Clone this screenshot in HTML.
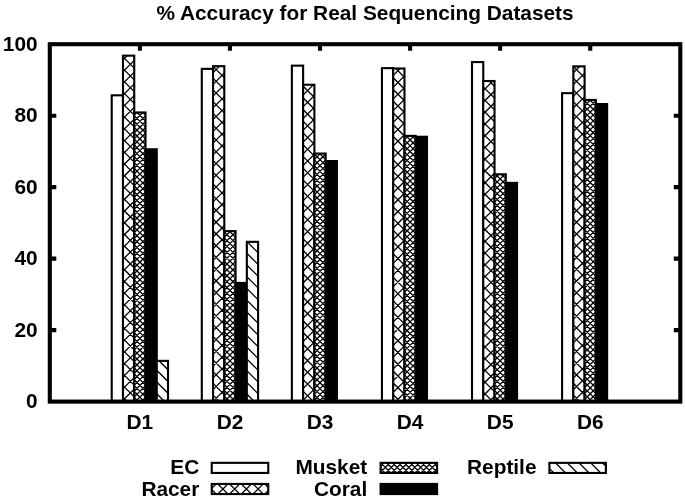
<!DOCTYPE html>
<html><head><meta charset="utf-8"><title>% Accuracy for Real Sequencing Datasets</title>
<style>html,body{margin:0;padding:0;background:#fff}svg{display:block}</style></head>
<body>
<svg width="685" height="502" viewBox="0 0 685 502">
<rect width="685" height="502" fill="#fff"/>
<path d="M49.8 330.12h6.5M680.3 330.12h-6.5M49.8 258.64h6.5M680.3 258.64h-6.5M49.8 187.16h6.5M680.3 187.16h-6.5M49.8 115.68h6.5M680.3 115.68h-6.5M139.87 44.2v6.5M139.87 401.6v-6.5M229.94 44.2v6.5M229.94 401.6v-6.5M320.01 44.2v6.5M320.01 401.6v-6.5M410.09 44.2v6.5M410.09 401.6v-6.5M500.16 44.2v6.5M500.16 401.6v-6.5M590.23 44.2v6.5M590.23 401.6v-6.5" stroke="#000" stroke-width="4.1" fill="none"/>
<rect x="111.72" y="95.31" width="11.26" height="306.29" fill="#fff"/><rect x="111.72" y="95.31" width="11.26" height="306.29" fill="none" stroke="#000" stroke-width="2.1"/>
<rect x="122.98" y="55.64" width="11.26" height="345.96" fill="#fff"/><clipPath id="c1"><rect x="122.98" y="55.64" width="11.26" height="345.96"/></clipPath><path clip-path="url(#c1)" d="M120.98 61.91L129.26 53.64M120.98 73.65L136.24 58.39M120.98 85.39L136.24 70.13M120.98 97.13L136.24 81.87M120.98 108.87L136.24 93.61M120.98 120.6L136.24 105.34M120.98 132.34L136.24 117.08M120.98 144.08L136.24 128.82M120.98 155.82L136.24 140.56M120.98 167.56L136.24 152.3M120.98 179.29L136.24 164.03M120.98 191.03L136.24 175.77M120.98 202.77L136.24 187.51M120.98 214.51L136.24 199.25M120.98 226.24L136.24 210.99M120.98 237.98L136.24 222.72M120.98 249.72L136.24 234.46M120.98 261.46L136.24 246.2M120.98 273.2L136.24 257.94M120.98 284.93L136.24 269.68M120.98 296.67L136.24 281.41M120.98 308.41L136.24 293.15M120.98 320.15L136.24 304.89M120.98 331.89L136.24 316.63M120.98 343.62L136.24 328.37M120.98 355.36L136.24 340.1M120.98 367.1L136.24 351.84M120.98 378.84L136.24 363.58M120.98 390.58L136.24 375.32M120.98 402.31L136.24 387.06M131.44 403.6L136.24 398.79M120.98 395.32L129.26 403.6M120.98 383.59L136.24 398.84M120.98 371.85L136.24 387.11M120.98 360.11L136.24 375.37M120.98 348.37L136.24 363.63M120.98 336.63L136.24 351.89M120.98 324.9L136.24 340.15M120.98 313.16L136.24 328.42M120.98 301.42L136.24 316.68M120.98 289.68L136.24 304.94M120.98 277.94L136.24 293.2M120.98 266.21L136.24 281.46M120.98 254.47L136.24 269.73M120.98 242.73L136.24 257.99M120.98 230.99L136.24 246.25M120.98 219.25L136.24 234.51M120.98 207.52L136.24 222.77M120.98 195.78L136.24 211.04M120.98 184.04L136.24 199.3M120.98 172.3L136.24 187.56M120.98 160.56L136.24 175.82M120.98 148.83L136.24 164.09M120.98 137.09L136.24 152.35M120.98 125.35L136.24 140.61M120.98 113.61L136.24 128.87M120.98 101.87L136.24 117.13M120.98 90.14L136.24 105.4M120.98 78.4L136.24 93.66M120.98 66.66L136.24 81.92M120.98 54.92L136.24 70.18M131.44 53.64L136.24 58.44" fill="none" stroke="#000" stroke-width="1.3"/><rect x="122.98" y="55.64" width="11.26" height="345.96" fill="none" stroke="#000" stroke-width="2.1"/>
<rect x="134.24" y="112.46" width="11.26" height="289.14" fill="#fff"/><clipPath id="c2"><rect x="134.24" y="112.46" width="11.26" height="289.14"/></clipPath><path clip-path="url(#c2)" d="M134.66 403.6L132.24 401.19M140.52 403.6L132.24 395.32M146.39 403.6L132.24 389.45M147.5 398.84L132.24 383.58M147.5 392.97L132.24 377.71M147.5 387.1L132.24 371.84M147.5 381.23L132.24 365.97M147.5 375.36L132.24 360.1M147.5 369.49L132.24 354.23M147.5 363.62L132.24 348.37M147.5 357.76L132.24 342.5M147.5 351.89L132.24 336.63M147.5 346.02L132.24 330.76M147.5 340.15L132.24 324.89M147.5 334.28L132.24 319.02M147.5 328.41L132.24 313.15M147.5 322.54L132.24 307.28M147.5 316.67L132.24 301.41M147.5 310.8L132.24 295.55M147.5 304.93L132.24 289.68M147.5 299.07L132.24 283.81M147.5 293.2L132.24 277.94M147.5 287.33L132.24 272.07M147.5 281.46L132.24 266.2M147.5 275.59L132.24 260.33M147.5 269.72L132.24 254.46M147.5 263.85L132.24 248.59M147.5 257.98L132.24 242.72M147.5 252.11L132.24 236.86M147.5 246.25L132.24 230.99M147.5 240.38L132.24 225.12M147.5 234.51L132.24 219.25M147.5 228.64L132.24 213.38M147.5 222.77L132.24 207.51M147.5 216.9L132.24 201.64M147.5 211.03L132.24 195.77M147.5 205.16L132.24 189.9M147.5 199.29L132.24 184.03M147.5 193.42L132.24 178.17M147.5 187.56L132.24 172.3M147.5 181.69L132.24 166.43M147.5 175.82L132.24 160.56M147.5 169.95L132.24 154.69M147.5 164.08L132.24 148.82M147.5 158.21L132.24 142.95M147.5 152.34L132.24 137.08M147.5 146.47L132.24 131.21M147.5 140.6L132.24 125.34M147.5 134.73L132.24 119.48M147.5 128.87L132.24 113.61M147.5 123L134.97 110.46M147.5 117.13L140.84 110.46M147.5 111.26L146.71 110.46M145.09 403.6L147.5 401.19M139.22 403.6L147.5 395.32M133.35 403.6L147.5 389.45M132.24 398.84L147.5 383.58M132.24 392.97L147.5 377.71M132.24 387.1L147.5 371.84M132.24 381.23L147.5 365.97M132.24 375.36L147.5 360.1M132.24 369.49L147.5 354.23M132.24 363.62L147.5 348.37M132.24 357.76L147.5 342.5M132.24 351.89L147.5 336.63M132.24 346.02L147.5 330.76M132.24 340.15L147.5 324.89M132.24 334.28L147.5 319.02M132.24 328.41L147.5 313.15M132.24 322.54L147.5 307.28M132.24 316.67L147.5 301.41M132.24 310.8L147.5 295.55M132.24 304.93L147.5 289.68M132.24 299.07L147.5 283.81M132.24 293.2L147.5 277.94M132.24 287.33L147.5 272.07M132.24 281.46L147.5 266.2M132.24 275.59L147.5 260.33M132.24 269.72L147.5 254.46M132.24 263.85L147.5 248.59M132.24 257.98L147.5 242.72M132.24 252.11L147.5 236.86M132.24 246.25L147.5 230.99M132.24 240.38L147.5 225.12M132.24 234.51L147.5 219.25M132.24 228.64L147.5 213.38M132.24 222.77L147.5 207.51M132.24 216.9L147.5 201.64M132.24 211.03L147.5 195.77M132.24 205.16L147.5 189.9M132.24 199.29L147.5 184.03M132.24 193.42L147.5 178.17M132.24 187.56L147.5 172.3M132.24 181.69L147.5 166.43M132.24 175.82L147.5 160.56M132.24 169.95L147.5 154.69M132.24 164.08L147.5 148.82M132.24 158.21L147.5 142.95M132.24 152.34L147.5 137.08M132.24 146.47L147.5 131.21M132.24 140.6L147.5 125.34M132.24 134.73L147.5 119.48M132.24 128.87L147.5 113.61M132.24 123L144.77 110.46M132.24 117.13L138.91 110.46M132.24 111.26L133.04 110.46" fill="none" stroke="#000" stroke-width="1.3"/><rect x="134.24" y="112.46" width="11.26" height="289.14" fill="none" stroke="#000" stroke-width="2.1"/>
<rect x="145.5" y="149.28" width="11.26" height="252.32" fill="#000" stroke="#000" stroke-width="2.1"/>
<rect x="156.76" y="360.86" width="11.26" height="40.74" fill="#fff"/><clipPath id="c3"><rect x="156.76" y="360.86" width="11.26" height="40.74"/></clipPath><path clip-path="url(#c3)" d="M154.87 403.6L154.76 403.49M166.61 403.6L154.76 391.75M170.02 395.27L154.76 380.01M170.02 383.53L154.76 368.27M170.02 371.8L157.08 358.86M170.02 360.06L168.82 358.86" fill="none" stroke="#000" stroke-width="1.3"/><rect x="156.76" y="360.86" width="11.26" height="40.74" fill="none" stroke="#000" stroke-width="2.1"/>
<rect x="201.8" y="68.86" width="11.26" height="332.74" fill="#fff"/><rect x="201.8" y="68.86" width="11.26" height="332.74" fill="none" stroke="#000" stroke-width="2.1"/>
<rect x="213.05" y="66.18" width="11.26" height="335.42" fill="#fff"/><clipPath id="c4"><rect x="213.05" y="66.18" width="11.26" height="335.42"/></clipPath><path clip-path="url(#c4)" d="M211.05 74.64L221.51 64.18M211.05 86.37L226.31 71.12M211.05 98.11L226.31 82.85M211.05 109.85L226.31 94.59M211.05 121.59L226.31 106.33M211.05 133.33L226.31 118.07M211.05 145.06L226.31 129.8M211.05 156.8L226.31 141.54M211.05 168.54L226.31 153.28M211.05 180.28L226.31 165.02M211.05 192.02L226.31 176.76M211.05 203.75L226.31 188.49M211.05 215.49L226.31 200.23M211.05 227.23L226.31 211.97M211.05 238.97L226.31 223.71M211.05 250.71L226.31 235.45M211.05 262.44L226.31 247.18M211.05 274.18L226.31 258.92M211.05 285.92L226.31 270.66M211.05 297.66L226.31 282.4M211.05 309.4L226.31 294.14M211.05 321.13L226.31 305.87M211.05 332.87L226.31 317.61M211.05 344.61L226.31 329.35M211.05 356.35L226.31 341.09M211.05 368.09L226.31 352.83M211.05 379.82L226.31 364.56M211.05 391.56L226.31 376.3M211.05 403.3L226.31 388.04M222.49 403.6L226.31 399.78M211.05 393.14L221.51 403.6M211.05 381.41L226.31 396.66M211.05 369.67L226.31 384.93M211.05 357.93L226.31 373.19M211.05 346.19L226.31 361.45M211.05 334.45L226.31 349.71M211.05 322.72L226.31 337.98M211.05 310.98L226.31 326.24M211.05 299.24L226.31 314.5M211.05 287.5L226.31 302.76M211.05 275.76L226.31 291.02M211.05 264.03L226.31 279.29M211.05 252.29L226.31 267.55M211.05 240.55L226.31 255.81M211.05 228.81L226.31 244.07M211.05 217.07L226.31 232.33M211.05 205.34L226.31 220.6M211.05 193.6L226.31 208.86M211.05 181.86L226.31 197.12M211.05 170.12L226.31 185.38M211.05 158.38L226.31 173.64M211.05 146.65L226.31 161.91M211.05 134.91L226.31 150.17M211.05 123.17L226.31 138.43M211.05 111.43L226.31 126.69M211.05 99.69L226.31 114.95M211.05 87.96L226.31 103.22M211.05 76.22L226.31 91.48M211.05 64.48L226.31 79.74M222.49 64.18L226.31 68" fill="none" stroke="#000" stroke-width="1.3"/><rect x="213.05" y="66.18" width="11.26" height="335.42" fill="none" stroke="#000" stroke-width="2.1"/>
<rect x="224.31" y="231.12" width="11.26" height="170.48" fill="#fff"/><clipPath id="c5"><rect x="224.31" y="231.12" width="11.26" height="170.48"/></clipPath><path clip-path="url(#c5)" d="M225.72 403.6L222.31 400.2M231.59 403.6L222.31 394.33M237.46 403.6L222.31 388.46M237.57 397.85L222.31 382.59M237.57 391.98L222.31 376.72M237.57 386.11L222.31 370.85M237.57 380.24L222.31 364.98M237.57 374.37L222.31 359.11M237.57 368.5L222.31 353.24M237.57 362.63L222.31 347.37M237.57 356.76L222.31 341.51M237.57 350.9L222.31 335.64M237.57 345.03L222.31 329.77M237.57 339.16L222.31 323.9M237.57 333.29L222.31 318.03M237.57 327.42L222.31 312.16M237.57 321.55L222.31 306.29M237.57 315.68L222.31 300.42M237.57 309.81L222.31 294.55M237.57 303.94L222.31 288.68M237.57 298.07L222.31 282.82M237.57 292.21L222.31 276.95M237.57 286.34L222.31 271.08M237.57 280.47L222.31 265.21M237.57 274.6L222.31 259.34M237.57 268.73L222.31 253.47M237.57 262.86L222.31 247.6M237.57 256.99L222.31 241.73M237.57 251.12L222.31 235.86M237.57 245.25L222.31 230M237.57 239.39L227.31 229.12M237.57 233.52L233.18 229.12M234.17 403.6L237.57 400.2M228.3 403.6L237.57 394.33M222.43 403.6L237.57 388.46M222.31 397.85L237.57 382.59M222.31 391.98L237.57 376.72M222.31 386.11L237.57 370.85M222.31 380.24L237.57 364.98M222.31 374.37L237.57 359.11M222.31 368.5L237.57 353.24M222.31 362.63L237.57 347.37M222.31 356.76L237.57 341.51M222.31 350.9L237.57 335.64M222.31 345.03L237.57 329.77M222.31 339.16L237.57 323.9M222.31 333.29L237.57 318.03M222.31 327.42L237.57 312.16M222.31 321.55L237.57 306.29M222.31 315.68L237.57 300.42M222.31 309.81L237.57 294.55M222.31 303.94L237.57 288.68M222.31 298.07L237.57 282.82M222.31 292.21L237.57 276.95M222.31 286.34L237.57 271.08M222.31 280.47L237.57 265.21M222.31 274.6L237.57 259.34M222.31 268.73L237.57 253.47M222.31 262.86L237.57 247.6M222.31 256.99L237.57 241.73M222.31 251.12L237.57 235.86M222.31 245.25L237.57 230M222.31 239.39L232.58 229.12M222.31 233.52L226.71 229.12" fill="none" stroke="#000" stroke-width="1.3"/><rect x="224.31" y="231.12" width="11.26" height="170.48" fill="none" stroke="#000" stroke-width="2.1"/>
<rect x="235.57" y="282.94" width="11.26" height="118.66" fill="#000" stroke="#000" stroke-width="2.1"/>
<rect x="246.83" y="241.84" width="11.26" height="159.76" fill="#fff"/><clipPath id="c6"><rect x="246.83" y="241.84" width="11.26" height="159.76"/></clipPath><path clip-path="url(#c6)" d="M256.31 403.6L244.83 392.12M260.09 395.64L244.83 380.39M260.09 383.91L244.83 368.65M260.09 372.17L244.83 356.91M260.09 360.43L244.83 345.17M260.09 348.69L244.83 333.43M260.09 336.95L244.83 321.7M260.09 325.22L244.83 309.96M260.09 313.48L244.83 298.22M260.09 301.74L244.83 286.48M260.09 290L244.83 274.74M260.09 278.26L244.83 263.01M260.09 266.53L244.83 251.27M260.09 254.79L245.14 239.84M260.09 243.05L256.88 239.84" fill="none" stroke="#000" stroke-width="1.3"/><rect x="246.83" y="241.84" width="11.26" height="159.76" fill="none" stroke="#000" stroke-width="2.1"/>
<rect x="291.87" y="65.64" width="11.26" height="335.96" fill="#fff"/><rect x="291.87" y="65.64" width="11.26" height="335.96" fill="none" stroke="#000" stroke-width="2.1"/>
<rect x="303.13" y="84.76" width="11.26" height="316.84" fill="#fff"/><clipPath id="c7"><rect x="303.13" y="84.76" width="11.26" height="316.84"/></clipPath><path clip-path="url(#c7)" d="M301.13 85.32L303.69 82.76M301.13 97.06L315.42 82.76M301.13 108.8L316.38 93.54M301.13 120.54L316.38 105.28M301.13 132.28L316.38 117.02M301.13 144.01L316.38 128.76M301.13 155.75L316.38 140.49M301.13 167.49L316.38 152.23M301.13 179.23L316.38 163.97M301.13 190.97L316.38 175.71M301.13 202.7L316.38 187.44M301.13 214.44L316.38 199.18M301.13 226.18L316.38 210.92M301.13 237.92L316.38 222.66M301.13 249.66L316.38 234.4M301.13 261.39L316.38 246.13M301.13 273.13L316.38 257.87M301.13 284.87L316.38 269.61M301.13 296.61L316.38 281.35M301.13 308.35L316.38 293.09M301.13 320.08L316.38 304.82M301.13 331.82L316.38 316.56M301.13 343.56L316.38 328.3M301.13 355.3L316.38 340.04M301.13 367.04L316.38 351.78M301.13 378.77L316.38 363.51M301.13 390.51L316.38 375.25M301.13 402.25L316.38 386.99M311.51 403.6L316.38 398.73M301.13 401.04L303.69 403.6M301.13 389.3L315.42 403.6M301.13 377.56L316.38 392.82M301.13 365.83L316.38 381.09M301.13 354.09L316.38 369.35M301.13 342.35L316.38 357.61M301.13 330.61L316.38 345.87M301.13 318.87L316.38 334.13M301.13 307.14L316.38 322.4M301.13 295.4L316.38 310.66M301.13 283.66L316.38 298.92M301.13 271.92L316.38 287.18M301.13 260.19L316.38 275.44M301.13 248.45L316.38 263.71M301.13 236.71L316.38 251.97M301.13 224.97L316.38 240.23M301.13 213.23L316.38 228.49M301.13 201.5L316.38 216.75M301.13 189.76L316.38 205.02M301.13 178.02L316.38 193.28M301.13 166.28L316.38 181.54M301.13 154.54L316.38 169.8M301.13 142.81L316.38 158.06M301.13 131.07L316.38 146.33M301.13 119.33L316.38 134.59M301.13 107.59L316.38 122.85M301.13 95.85L316.38 111.11M301.13 84.12L316.38 99.37M311.51 82.76L316.38 87.64" fill="none" stroke="#000" stroke-width="1.3"/><rect x="303.13" y="84.76" width="11.26" height="316.84" fill="none" stroke="#000" stroke-width="2.1"/>
<rect x="314.38" y="153.56" width="11.26" height="248.04" fill="#fff"/><clipPath id="c8"><rect x="314.38" y="153.56" width="11.26" height="248.04"/></clipPath><path clip-path="url(#c8)" d="M317.42 403.6L312.38 398.57M323.28 403.6L312.38 392.7M327.64 402.09L312.38 386.83M327.64 396.22L312.38 380.96M327.64 390.35L312.38 375.09M327.64 384.48L312.38 369.22M327.64 378.61L312.38 363.36M327.64 372.75L312.38 357.49M327.64 366.88L312.38 351.62M327.64 361.01L312.38 345.75M327.64 355.14L312.38 339.88M327.64 349.27L312.38 334.01M327.64 343.4L312.38 328.14M327.64 337.53L312.38 322.27M327.64 331.66L312.38 316.4M327.64 325.79L312.38 310.53M327.64 319.92L312.38 304.67M327.64 314.06L312.38 298.8M327.64 308.19L312.38 292.93M327.64 302.32L312.38 287.06M327.64 296.45L312.38 281.19M327.64 290.58L312.38 275.32M327.64 284.71L312.38 269.45M327.64 278.84L312.38 263.58M327.64 272.97L312.38 257.71M327.64 267.1L312.38 251.84M327.64 261.23L312.38 245.98M327.64 255.37L312.38 240.11M327.64 249.5L312.38 234.24M327.64 243.63L312.38 228.37M327.64 237.76L312.38 222.5M327.64 231.89L312.38 216.63M327.64 226.02L312.38 210.76M327.64 220.15L312.38 204.89M327.64 214.28L312.38 199.02M327.64 208.41L312.38 193.15M327.64 202.54L312.38 187.29M327.64 196.68L312.38 181.42M327.64 190.81L312.38 175.55M327.64 184.94L312.38 169.68M327.64 179.07L312.38 163.81M327.64 173.2L312.38 157.94M327.64 167.33L312.38 152.07M327.64 161.46L317.75 151.56M327.64 155.59L323.62 151.56M322.61 403.6L327.64 398.57M316.74 403.6L327.64 392.7M312.38 402.09L327.64 386.83M312.38 396.22L327.64 380.96M312.38 390.35L327.64 375.09M312.38 384.48L327.64 369.22M312.38 378.61L327.64 363.36M312.38 372.75L327.64 357.49M312.38 366.88L327.64 351.62M312.38 361.01L327.64 345.75M312.38 355.14L327.64 339.88M312.38 349.27L327.64 334.01M312.38 343.4L327.64 328.14M312.38 337.53L327.64 322.27M312.38 331.66L327.64 316.4M312.38 325.79L327.64 310.53M312.38 319.92L327.64 304.67M312.38 314.06L327.64 298.8M312.38 308.19L327.64 292.93M312.38 302.32L327.64 287.06M312.38 296.45L327.64 281.19M312.38 290.58L327.64 275.32M312.38 284.71L327.64 269.45M312.38 278.84L327.64 263.58M312.38 272.97L327.64 257.71M312.38 267.1L327.64 251.84M312.38 261.23L327.64 245.98M312.38 255.37L327.64 240.11M312.38 249.5L327.64 234.24M312.38 243.63L327.64 228.37M312.38 237.76L327.64 222.5M312.38 231.89L327.64 216.63M312.38 226.02L327.64 210.76M312.38 220.15L327.64 204.89M312.38 214.28L327.64 199.02M312.38 208.41L327.64 193.15M312.38 202.54L327.64 187.29M312.38 196.68L327.64 181.42M312.38 190.81L327.64 175.55M312.38 184.94L327.64 169.68M312.38 179.07L327.64 163.81M312.38 173.2L327.64 157.94M312.38 167.33L327.64 152.07M312.38 161.46L322.28 151.56M312.38 155.59L316.41 151.56" fill="none" stroke="#000" stroke-width="1.3"/><rect x="314.38" y="153.56" width="11.26" height="248.04" fill="none" stroke="#000" stroke-width="2.1"/>
<rect x="325.64" y="161.07" width="11.26" height="240.53" fill="#000" stroke="#000" stroke-width="2.1"/>
<rect x="381.94" y="68.15" width="11.26" height="333.45" fill="#fff"/><rect x="381.94" y="68.15" width="11.26" height="333.45" fill="none" stroke="#000" stroke-width="2.1"/>
<rect x="393.2" y="68.5" width="11.26" height="333.1" fill="#fff"/><clipPath id="c9"><rect x="393.2" y="68.5" width="11.26" height="333.1"/></clipPath><path clip-path="url(#c9)" d="M391.2 77.44L402.13 66.5M391.2 89.18L406.46 73.92M391.2 100.92L406.46 85.66M391.2 112.65L406.46 97.39M391.2 124.39L406.46 109.13M391.2 136.13L406.46 120.87M391.2 147.87L406.46 132.61M391.2 159.61L406.46 144.35M391.2 171.34L406.46 156.08M391.2 183.08L406.46 167.82M391.2 194.82L406.46 179.56M391.2 206.56L406.46 191.3M391.2 218.3L406.46 203.04M391.2 230.03L406.46 214.77M391.2 241.77L406.46 226.51M391.2 253.51L406.46 238.25M391.2 265.25L406.46 249.99M391.2 276.98L406.46 261.73M391.2 288.72L406.46 273.46M391.2 300.46L406.46 285.2M391.2 312.2L406.46 296.94M391.2 323.94L406.46 308.68M391.2 335.67L406.46 320.42M391.2 347.41L406.46 332.15M391.2 359.15L406.46 343.89M391.2 370.89L406.46 355.63M391.2 382.63L406.46 367.37M391.2 394.36L406.46 379.11M393.7 403.6L406.46 390.84M405.44 403.6L406.46 402.58M391.2 392.66L402.13 403.6M391.2 380.93L406.46 396.18M391.2 369.19L406.46 384.45M391.2 357.45L406.46 372.71M391.2 345.71L406.46 360.97M391.2 333.97L406.46 349.23M391.2 322.24L406.46 337.49M391.2 310.5L406.46 325.76M391.2 298.76L406.46 314.02M391.2 287.02L406.46 302.28M391.2 275.28L406.46 290.54M391.2 263.55L406.46 278.81M391.2 251.81L406.46 267.07M391.2 240.07L406.46 255.33M391.2 228.33L406.46 243.59M391.2 216.59L406.46 231.85M391.2 204.86L406.46 220.12M391.2 193.12L406.46 208.38M391.2 181.38L406.46 196.64M391.2 169.64L406.46 184.9M391.2 157.9L406.46 173.16M391.2 146.17L406.46 161.43M391.2 134.43L406.46 149.69M391.2 122.69L406.46 137.95M391.2 110.95L406.46 126.21M391.2 99.21L406.46 114.47M391.2 87.48L406.46 102.74M391.2 75.74L406.46 91M393.7 66.5L406.46 79.26M405.44 66.5L406.46 67.52" fill="none" stroke="#000" stroke-width="1.3"/><rect x="393.2" y="68.5" width="11.26" height="333.1" fill="none" stroke="#000" stroke-width="2.1"/>
<rect x="404.46" y="135.87" width="11.26" height="265.73" fill="#fff"/><clipPath id="c10"><rect x="404.46" y="135.87" width="11.26" height="265.73"/></clipPath><path clip-path="url(#c10)" d="M403.84 403.6L402.46 402.22M409.7 403.6L402.46 396.35M415.57 403.6L402.46 390.48M417.72 399.87L402.46 384.61M417.72 394L402.46 378.75M417.72 388.14L402.46 372.88M417.72 382.27L402.46 367.01M417.72 376.4L402.46 361.14M417.72 370.53L402.46 355.27M417.72 364.66L402.46 349.4M417.72 358.79L402.46 343.53M417.72 352.92L402.46 337.66M417.72 347.05L402.46 331.79M417.72 341.18L402.46 325.92M417.72 335.31L402.46 320.06M417.72 329.45L402.46 314.19M417.72 323.58L402.46 308.32M417.72 317.71L402.46 302.45M417.72 311.84L402.46 296.58M417.72 305.97L402.46 290.71M417.72 300.1L402.46 284.84M417.72 294.23L402.46 278.97M417.72 288.36L402.46 273.1M417.72 282.49L402.46 267.23M417.72 276.62L402.46 261.37M417.72 270.76L402.46 255.5M417.72 264.89L402.46 249.63M417.72 259.02L402.46 243.76M417.72 253.15L402.46 237.89M417.72 247.28L402.46 232.02M417.72 241.41L402.46 226.15M417.72 235.54L402.46 220.28M417.72 229.67L402.46 214.41M417.72 223.8L402.46 208.54M417.72 217.93L402.46 202.68M417.72 212.07L402.46 196.81M417.72 206.2L402.46 190.94M417.72 200.33L402.46 185.07M417.72 194.46L402.46 179.2M417.72 188.59L402.46 173.33M417.72 182.72L402.46 167.46M417.72 176.85L402.46 161.59M417.72 170.98L402.46 155.72M417.72 165.11L402.46 149.85M417.72 159.24L402.46 143.99M417.72 153.38L402.46 138.12M417.72 147.51L404.08 133.87M417.72 141.64L409.95 133.87M417.72 135.77L415.82 133.87M416.34 403.6L417.72 402.22M410.47 403.6L417.72 396.35M404.6 403.6L417.72 390.48M402.46 399.87L417.72 384.61M402.46 394L417.72 378.75M402.46 388.14L417.72 372.88M402.46 382.27L417.72 367.01M402.46 376.4L417.72 361.14M402.46 370.53L417.72 355.27M402.46 364.66L417.72 349.4M402.46 358.79L417.72 343.53M402.46 352.92L417.72 337.66M402.46 347.05L417.72 331.79M402.46 341.18L417.72 325.92M402.46 335.31L417.72 320.06M402.46 329.45L417.72 314.19M402.46 323.58L417.72 308.32M402.46 317.71L417.72 302.45M402.46 311.84L417.72 296.58M402.46 305.97L417.72 290.71M402.46 300.1L417.72 284.84M402.46 294.23L417.72 278.97M402.46 288.36L417.72 273.1M402.46 282.49L417.72 267.23M402.46 276.62L417.72 261.37M402.46 270.76L417.72 255.5M402.46 264.89L417.72 249.63M402.46 259.02L417.72 243.76M402.46 253.15L417.72 237.89M402.46 247.28L417.72 232.02M402.46 241.41L417.72 226.15M402.46 235.54L417.72 220.28M402.46 229.67L417.72 214.41M402.46 223.8L417.72 208.54M402.46 217.93L417.72 202.68M402.46 212.07L417.72 196.81M402.46 206.2L417.72 190.94M402.46 200.33L417.72 185.07M402.46 194.46L417.72 179.2M402.46 188.59L417.72 173.33M402.46 182.72L417.72 167.46M402.46 176.85L417.72 161.59M402.46 170.98L417.72 155.72M402.46 165.11L417.72 149.85M402.46 159.24L417.72 143.99M402.46 153.38L417.72 138.12M402.46 147.51L416.09 133.87M402.46 141.64L410.22 133.87M402.46 135.77L404.35 133.87" fill="none" stroke="#000" stroke-width="1.3"/><rect x="404.46" y="135.87" width="11.26" height="265.73" fill="none" stroke="#000" stroke-width="2.1"/>
<rect x="415.72" y="136.77" width="11.26" height="264.83" fill="#000" stroke="#000" stroke-width="2.1"/>
<rect x="472.01" y="62.07" width="11.26" height="339.53" fill="#fff"/><rect x="472.01" y="62.07" width="11.26" height="339.53" fill="none" stroke="#000" stroke-width="2.1"/>
<rect x="483.27" y="81.01" width="11.26" height="320.59" fill="#fff"/><clipPath id="c11"><rect x="483.27" y="81.01" width="11.26" height="320.59"/></clipPath><path clip-path="url(#c11)" d="M481.27 80.8L483.05 79.01M481.27 92.53L494.79 79.01M481.27 104.27L496.53 89.01M481.27 116.01L496.53 100.75M481.27 127.75L496.53 112.49M481.27 139.49L496.53 124.23M481.27 151.22L496.53 135.96M481.27 162.96L496.53 147.7M481.27 174.7L496.53 159.44M481.27 186.44L496.53 171.18M481.27 198.18L496.53 182.92M481.27 209.91L496.53 194.65M481.27 221.65L496.53 206.39M481.27 233.39L496.53 218.13M481.27 245.13L496.53 229.87M481.27 256.87L496.53 241.61M481.27 268.6L496.53 253.34M481.27 280.34L496.53 265.08M481.27 292.08L496.53 276.82M481.27 303.82L496.53 288.56M481.27 315.56L496.53 300.3M481.27 327.29L496.53 312.03M481.27 339.03L496.53 323.77M481.27 350.77L496.53 335.51M481.27 362.51L496.53 347.25M481.27 374.25L496.53 358.99M481.27 385.98L496.53 370.72M481.27 397.72L496.53 382.46M487.13 403.6L496.53 394.2M481.27 401.82L483.05 403.6M481.27 390.08L494.79 403.6M481.27 378.34L496.53 393.6M481.27 366.6L496.53 381.86M481.27 354.86L496.53 370.12M481.27 343.13L496.53 358.39M481.27 331.39L496.53 346.65M481.27 319.65L496.53 334.91M481.27 307.91L496.53 323.17M481.27 296.17L496.53 311.43M481.27 284.44L496.53 299.7M481.27 272.7L496.53 287.96M481.27 260.96L496.53 276.22M481.27 249.22L496.53 264.48M481.27 237.48L496.53 252.74M481.27 225.75L496.53 241.01M481.27 214.01L496.53 229.27M481.27 202.27L496.53 217.53M481.27 190.53L496.53 205.79M481.27 178.79L496.53 194.05M481.27 167.06L496.53 182.32M481.27 155.32L496.53 170.58M481.27 143.58L496.53 158.84M481.27 131.84L496.53 147.1M481.27 120.1L496.53 135.36M481.27 108.37L496.53 123.63M481.27 96.63L496.53 111.89M481.27 84.89L496.53 100.15M487.13 79.01L496.53 88.41" fill="none" stroke="#000" stroke-width="1.3"/><rect x="483.27" y="81.01" width="11.26" height="320.59" fill="none" stroke="#000" stroke-width="2.1"/>
<rect x="494.53" y="174.29" width="11.26" height="227.31" fill="#fff"/><clipPath id="c12"><rect x="494.53" y="174.29" width="11.26" height="227.31"/></clipPath><path clip-path="url(#c12)" d="M495.97 403.6L492.53 400.16M501.84 403.6L492.53 394.29M507.7 403.6L492.53 388.42M507.79 397.81L492.53 382.55M507.79 391.94L492.53 376.69M507.79 386.08L492.53 370.82M507.79 380.21L492.53 364.95M507.79 374.34L492.53 359.08M507.79 368.47L492.53 353.21M507.79 362.6L492.53 347.34M507.79 356.73L492.53 341.47M507.79 350.86L492.53 335.6M507.79 344.99L492.53 329.73M507.79 339.12L492.53 323.86M507.79 333.25L492.53 318M507.79 327.39L492.53 312.13M507.79 321.52L492.53 306.26M507.79 315.65L492.53 300.39M507.79 309.78L492.53 294.52M507.79 303.91L492.53 288.65M507.79 298.04L492.53 282.78M507.79 292.17L492.53 276.91M507.79 286.3L492.53 271.04M507.79 280.43L492.53 265.17M507.79 274.56L492.53 259.31M507.79 268.7L492.53 253.44M507.79 262.83L492.53 247.57M507.79 256.96L492.53 241.7M507.79 251.09L492.53 235.83M507.79 245.22L492.53 229.96M507.79 239.35L492.53 224.09M507.79 233.48L492.53 218.22M507.79 227.61L492.53 212.35M507.79 221.74L492.53 206.48M507.79 215.87L492.53 200.62M507.79 210.01L492.53 194.75M507.79 204.14L492.53 188.88M507.79 198.27L492.53 183.01M507.79 192.4L492.53 177.14M507.79 186.53L493.55 172.29M507.79 180.66L499.42 172.29M507.79 174.79L505.29 172.29M504.35 403.6L507.79 400.16M498.48 403.6L507.79 394.29M492.61 403.6L507.79 388.42M492.53 397.81L507.79 382.55M492.53 391.94L507.79 376.69M492.53 386.08L507.79 370.82M492.53 380.21L507.79 364.95M492.53 374.34L507.79 359.08M492.53 368.47L507.79 353.21M492.53 362.6L507.79 347.34M492.53 356.73L507.79 341.47M492.53 350.86L507.79 335.6M492.53 344.99L507.79 329.73M492.53 339.12L507.79 323.86M492.53 333.25L507.79 318M492.53 327.39L507.79 312.13M492.53 321.52L507.79 306.26M492.53 315.65L507.79 300.39M492.53 309.78L507.79 294.52M492.53 303.91L507.79 288.65M492.53 298.04L507.79 282.78M492.53 292.17L507.79 276.91M492.53 286.3L507.79 271.04M492.53 280.43L507.79 265.17M492.53 274.56L507.79 259.31M492.53 268.7L507.79 253.44M492.53 262.83L507.79 247.57M492.53 256.96L507.79 241.7M492.53 251.09L507.79 235.83M492.53 245.22L507.79 229.96M492.53 239.35L507.79 224.09M492.53 233.48L507.79 218.22M492.53 227.61L507.79 212.35M492.53 221.74L507.79 206.48M492.53 215.87L507.79 200.62M492.53 210.01L507.79 194.75M492.53 204.14L507.79 188.88M492.53 198.27L507.79 183.01M492.53 192.4L507.79 177.14M492.53 186.53L506.76 172.29M492.53 180.66L500.89 172.29M492.53 174.79L495.03 172.29" fill="none" stroke="#000" stroke-width="1.3"/><rect x="494.53" y="174.29" width="11.26" height="227.31" fill="none" stroke="#000" stroke-width="2.1"/>
<rect x="505.79" y="182.87" width="11.26" height="218.73" fill="#000" stroke="#000" stroke-width="2.1"/>
<rect x="562.08" y="93.16" width="11.26" height="308.44" fill="#fff"/><rect x="562.08" y="93.16" width="11.26" height="308.44" fill="none" stroke="#000" stroke-width="2.1"/>
<rect x="573.34" y="66.36" width="11.26" height="335.24" fill="#fff"/><clipPath id="c13"><rect x="573.34" y="66.36" width="11.26" height="335.24"/></clipPath><path clip-path="url(#c13)" d="M571.34 74.85L581.83 64.36M571.34 86.59L586.6 71.33M571.34 98.33L586.6 83.07M571.34 110.07L586.6 94.81M571.34 121.8L586.6 106.54M571.34 133.54L586.6 118.28M571.34 145.28L586.6 130.02M571.34 157.02L586.6 141.76M571.34 168.76L586.6 153.5M571.34 180.49L586.6 165.23M571.34 192.23L586.6 176.97M571.34 203.97L586.6 188.71M571.34 215.71L586.6 200.45M571.34 227.45L586.6 212.19M571.34 239.18L586.6 223.92M571.34 250.92L586.6 235.66M571.34 262.66L586.6 247.4M571.34 274.4L586.6 259.14M571.34 286.14L586.6 270.88M571.34 297.87L586.6 282.61M571.34 309.61L586.6 294.35M571.34 321.35L586.6 306.09M571.34 333.09L586.6 317.83M571.34 344.83L586.6 329.57M571.34 356.56L586.6 341.3M571.34 368.3L586.6 353.04M571.34 380.04L586.6 364.78M571.34 391.78L586.6 376.52M571.34 403.51L586.6 388.26M582.99 403.6L586.6 399.99M571.34 393.11L581.83 403.6M571.34 381.37L586.6 396.63M571.34 369.63L586.6 384.89M571.34 357.89L586.6 373.15M571.34 346.16L586.6 361.41M571.34 334.42L586.6 349.68M571.34 322.68L586.6 337.94M571.34 310.94L586.6 326.2M571.34 299.2L586.6 314.46M571.34 287.47L586.6 302.72M571.34 275.73L586.6 290.99M571.34 263.99L586.6 279.25M571.34 252.25L586.6 267.51M571.34 240.51L586.6 255.77M571.34 228.78L586.6 244.03M571.34 217.04L586.6 232.3M571.34 205.3L586.6 220.56M571.34 193.56L586.6 208.82M571.34 181.82L586.6 197.08M571.34 170.09L586.6 185.34M571.34 158.35L586.6 173.61M571.34 146.61L586.6 161.87M571.34 134.87L586.6 150.13M571.34 123.13L586.6 138.39M571.34 111.4L586.6 126.65M571.34 99.66L586.6 114.92M571.34 87.92L586.6 103.18M571.34 76.18L586.6 91.44M571.34 64.44L586.6 79.7M582.99 64.36L586.6 67.96" fill="none" stroke="#000" stroke-width="1.3"/><rect x="573.34" y="66.36" width="11.26" height="335.24" fill="none" stroke="#000" stroke-width="2.1"/>
<rect x="584.6" y="99.95" width="11.26" height="301.65" fill="#fff"/><clipPath id="c14"><rect x="584.6" y="99.95" width="11.26" height="301.65"/></clipPath><path clip-path="url(#c14)" d="M588.3 403.6L582.6 397.9M594.17 403.6L582.6 392.03M597.86 401.42L582.6 386.16M597.86 395.55L582.6 380.3M597.86 389.69L582.6 374.43M597.86 383.82L582.6 368.56M597.86 377.95L582.6 362.69M597.86 372.08L582.6 356.82M597.86 366.21L582.6 350.95M597.86 360.34L582.6 345.08M597.86 354.47L582.6 339.21M597.86 348.6L582.6 333.34M597.86 342.73L582.6 327.47M597.86 336.86L582.6 321.61M597.86 331L582.6 315.74M597.86 325.13L582.6 309.87M597.86 319.26L582.6 304M597.86 313.39L582.6 298.13M597.86 307.52L582.6 292.26M597.86 301.65L582.6 286.39M597.86 295.78L582.6 280.52M597.86 289.91L582.6 274.65M597.86 284.04L582.6 268.78M597.86 278.17L582.6 262.92M597.86 272.31L582.6 257.05M597.86 266.44L582.6 251.18M597.86 260.57L582.6 245.31M597.86 254.7L582.6 239.44M597.86 248.83L582.6 233.57M597.86 242.96L582.6 227.7M597.86 237.09L582.6 221.83M597.86 231.22L582.6 215.96M597.86 225.35L582.6 210.09M597.86 219.48L582.6 204.23M597.86 213.62L582.6 198.36M597.86 207.75L582.6 192.49M597.86 201.88L582.6 186.62M597.86 196.01L582.6 180.75M597.86 190.14L582.6 174.88M597.86 184.27L582.6 169.01M597.86 178.4L582.6 163.14M597.86 172.53L582.6 157.27M597.86 166.66L582.6 151.4M597.86 160.79L582.6 145.54M597.86 154.93L582.6 139.67M597.86 149.06L582.6 133.8M597.86 143.19L582.6 127.93M597.86 137.32L582.6 122.06M597.86 131.45L582.6 116.19M597.86 125.58L582.6 110.32M597.86 119.71L582.6 104.45M597.86 113.84L582.6 98.58M597.86 107.97L587.84 97.95M597.86 102.1L593.71 97.95M592.16 403.6L597.86 397.9M586.29 403.6L597.86 392.03M582.6 401.42L597.86 386.16M582.6 395.55L597.86 380.3M582.6 389.69L597.86 374.43M582.6 383.82L597.86 368.56M582.6 377.95L597.86 362.69M582.6 372.08L597.86 356.82M582.6 366.21L597.86 350.95M582.6 360.34L597.86 345.08M582.6 354.47L597.86 339.21M582.6 348.6L597.86 333.34M582.6 342.73L597.86 327.47M582.6 336.86L597.86 321.61M582.6 331L597.86 315.74M582.6 325.13L597.86 309.87M582.6 319.26L597.86 304M582.6 313.39L597.86 298.13M582.6 307.52L597.86 292.26M582.6 301.65L597.86 286.39M582.6 295.78L597.86 280.52M582.6 289.91L597.86 274.65M582.6 284.04L597.86 268.78M582.6 278.17L597.86 262.92M582.6 272.31L597.86 257.05M582.6 266.44L597.86 251.18M582.6 260.57L597.86 245.31M582.6 254.7L597.86 239.44M582.6 248.83L597.86 233.57M582.6 242.96L597.86 227.7M582.6 237.09L597.86 221.83M582.6 231.22L597.86 215.96M582.6 225.35L597.86 210.09M582.6 219.48L597.86 204.23M582.6 213.62L597.86 198.36M582.6 207.75L597.86 192.49M582.6 201.88L597.86 186.62M582.6 196.01L597.86 180.75M582.6 190.14L597.86 174.88M582.6 184.27L597.86 169.01M582.6 178.4L597.86 163.14M582.6 172.53L597.86 157.27M582.6 166.66L597.86 151.4M582.6 160.79L597.86 145.54M582.6 154.93L597.86 139.67M582.6 149.06L597.86 133.8M582.6 143.19L597.86 127.93M582.6 137.32L597.86 122.06M582.6 131.45L597.86 116.19M582.6 125.58L597.86 110.32M582.6 119.71L597.86 104.45M582.6 113.84L597.86 98.58M582.6 107.97L592.62 97.95M582.6 102.1L586.75 97.95" fill="none" stroke="#000" stroke-width="1.3"/><rect x="584.6" y="99.95" width="11.26" height="301.65" fill="none" stroke="#000" stroke-width="2.1"/>
<rect x="595.86" y="104.06" width="11.26" height="297.54" fill="#000" stroke="#000" stroke-width="2.1"/>
<rect x="49.8" y="44.2" width="630.5" height="357.4" fill="none" stroke="#000" stroke-width="4.1"/>
<g font-family="'Liberation Sans', Arial, Helvetica, sans-serif" font-weight="bold" font-size="21" fill="#000">
<text transform="translate(365 19.7) scale(0.993 1)" text-anchor="middle">% Accuracy for Real Sequencing Datasets</text>
<text transform="translate(37.6 408.3) scale(0.993 1)" text-anchor="end">0</text>
<text transform="translate(37.6 336.82) scale(0.993 1)" text-anchor="end">20</text>
<text transform="translate(37.6 265.34) scale(0.993 1)" text-anchor="end">40</text>
<text transform="translate(37.6 193.86) scale(0.993 1)" text-anchor="end">60</text>
<text transform="translate(37.6 122.38) scale(0.993 1)" text-anchor="end">80</text>
<text transform="translate(37.6 50.9) scale(0.993 1)" text-anchor="end">100</text>
<text transform="translate(139.87 429.3) scale(0.993 1)" text-anchor="middle">D1</text>
<text transform="translate(229.94 429.3) scale(0.993 1)" text-anchor="middle">D2</text>
<text transform="translate(320.01 429.3) scale(0.993 1)" text-anchor="middle">D3</text>
<text transform="translate(410.09 429.3) scale(0.993 1)" text-anchor="middle">D4</text>
<text transform="translate(500.16 429.3) scale(0.993 1)" text-anchor="middle">D5</text>
<text transform="translate(590.23 429.3) scale(0.993 1)" text-anchor="middle">D6</text>
<text transform="translate(199.3 474.4) scale(0.993 1)" text-anchor="end">EC</text>
<text transform="translate(199.3 495.5) scale(0.993 1)" text-anchor="end">Racer</text>
<text transform="translate(367.2 474.4) scale(0.993 1)" text-anchor="end">Musket</text>
<text transform="translate(367.2 495.5) scale(0.993 1)" text-anchor="end">Coral</text>
<text transform="translate(536.5 474.4) scale(0.993 1)" text-anchor="end">Reptile</text>
</g>
<rect x="211.75" y="462.85" width="56.5" height="10.1" fill="#fff"/><rect x="211.75" y="462.85" width="56.5" height="10.1" fill="none" stroke="#000" stroke-width="2.1"/>
<rect x="211.75" y="483.95" width="56.5" height="10.1" fill="#fff"/><clipPath id="c15"><rect x="211.75" y="483.95" width="56.5" height="10.1"/></clipPath><path clip-path="url(#c15)" d="M209.75 490.4L218.2 481.95M215.84 496.05L229.94 481.95M227.58 496.05L241.68 481.95M239.32 496.05L253.42 481.95M251.06 496.05L265.16 481.95M262.79 496.05L270.25 488.59M209.75 487.6L218.2 496.05M215.84 481.95L229.94 496.05M227.58 481.95L241.68 496.05M239.32 481.95L253.42 496.05M251.06 481.95L265.16 496.05M262.79 481.95L270.25 489.41" fill="none" stroke="#000" stroke-width="1.3"/><rect x="211.75" y="483.95" width="56.5" height="10.1" fill="none" stroke="#000" stroke-width="2.1"/>
<rect x="380.6" y="462.85" width="56.5" height="10.1" fill="#fff"/><clipPath id="c16"><rect x="380.6" y="462.85" width="56.5" height="10.1"/></clipPath><path clip-path="url(#c16)" d="M381.18 474.95L378.6 472.37M387.05 474.95L378.6 466.5M392.92 474.95L378.82 460.85M398.79 474.95L384.69 460.85M404.66 474.95L390.56 460.85M410.53 474.95L396.43 460.85M416.4 474.95L402.3 460.85M422.27 474.95L408.17 460.85M428.14 474.95L414.04 460.85M434.01 474.95L419.91 460.85M439.1 474.18L425.77 460.85M439.1 468.31L431.64 460.85M439.1 462.44L437.51 460.85M436.52 474.95L439.1 472.37M430.65 474.95L439.1 466.5M424.78 474.95L438.88 460.85M418.91 474.95L433.01 460.85M413.04 474.95L427.14 460.85M407.17 474.95L421.27 460.85M401.3 474.95L415.4 460.85M395.43 474.95L409.53 460.85M389.56 474.95L403.66 460.85M383.69 474.95L397.79 460.85M378.6 474.18L391.93 460.85M378.6 468.31L386.06 460.85M378.6 462.44L380.19 460.85" fill="none" stroke="#000" stroke-width="1.3"/><rect x="380.6" y="462.85" width="56.5" height="10.1" fill="none" stroke="#000" stroke-width="2.1"/>
<rect x="380.6" y="483.95" width="56.5" height="10.1" fill="#000" stroke="#000" stroke-width="2.1"/>
<rect x="549.4" y="462.85" width="56.5" height="10.1" fill="#fff"/><clipPath id="c17"><rect x="549.4" y="462.85" width="56.5" height="10.1"/></clipPath><path clip-path="url(#c17)" d="M555.85 474.95L547.4 466.5M567.59 474.95L553.49 460.85M579.33 474.95L565.23 460.85M591.07 474.95L576.97 460.85M602.81 474.95L588.71 460.85M607.9 468.31L600.44 460.85" fill="none" stroke="#000" stroke-width="1.3"/><rect x="549.4" y="462.85" width="56.5" height="10.1" fill="none" stroke="#000" stroke-width="2.1"/>
</svg>
</body></html>
